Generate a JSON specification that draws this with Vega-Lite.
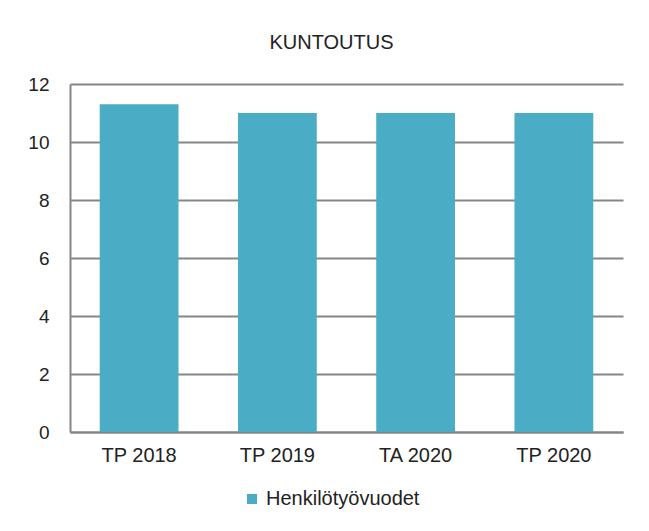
{
  "$schema": "https://vega.github.io/schema/vega-lite/v6.json",
  "width": 553,
  "height": 348,
  "autosize": {"type": "pad"},
  "padding": {"left": 27, "top": 33, "right": 27, "bottom": 26},
  "background": "white",
  "title": {
    "text": "KUNTOUTUS",
    "fontSize": 20,
    "fontWeight": "normal",
    "font": "Liberation Sans",
    "color": "#222222",
    "offset": 22,
    "dx": -15,
    "anchor": "middle"
  },
  "data": {
    "values": [
      {"kategoria": "TP 2018", "arvo": 11.3, "sarja": "Henkilötyövuodet"},
      {"kategoria": "TP 2019", "arvo": 11.0, "sarja": "Henkilötyövuodet"},
      {"kategoria": "TA 2020", "arvo": 11.0, "sarja": "Henkilötyövuodet"},
      {"kategoria": "TP 2020", "arvo": 11.0, "sarja": "Henkilötyövuodet"}
    ]
  },
  "mark": {"type": "bar"},
  "encoding": {
    "x": {
      "field": "kategoria",
      "type": "nominal",
      "sort": null,
      "scale": {"paddingInner": 0.43, "paddingOuter": 0.215},
      "axis": {
        "title": null,
        "labelAngle": 0,
        "labelFontSize": 20,
        "labelPadding": 13,
        "ticks": false,
        "grid": false,
        "domainColor": "#868686",
        "domainWidth": 2
      }
    },
    "y": {
      "field": "arvo",
      "type": "quantitative",
      "scale": {"domain": [0, 12]},
      "axis": {
        "title": null,
        "values": [0, 2, 4, 6, 8, 10, 12],
        "labelFontSize": 19,
        "labelPadding": 21,
        "ticks": false,
        "grid": true,
        "gridColor": "#868686",
        "gridWidth": 2,
        "gridOpacity": 1,
        "domainColor": "#868686",
        "domainWidth": 2
      }
    },
    "color": {
      "field": "sarja",
      "type": "nominal",
      "scale": {"range": ["#4BACC6"]},
      "legend": {
        "title": null,
        "orient": "none",
        "legendX": 172,
        "legendY": 405,
        "direction": "horizontal",
        "symbolType": "square",
        "symbolSize": 100,
        "symbolStrokeWidth": 0,
        "labelFontSize": 20,
        "labelOffset": 4
      }
    }
  },
  "config": {
    "view": {"stroke": null},
    "font": "Liberation Sans",
    "axis": {"labelColor": "#222222", "labelFont": "Liberation Sans"},
    "legend": {"labelColor": "#222222", "labelFont": "Liberation Sans"}
  }
}
